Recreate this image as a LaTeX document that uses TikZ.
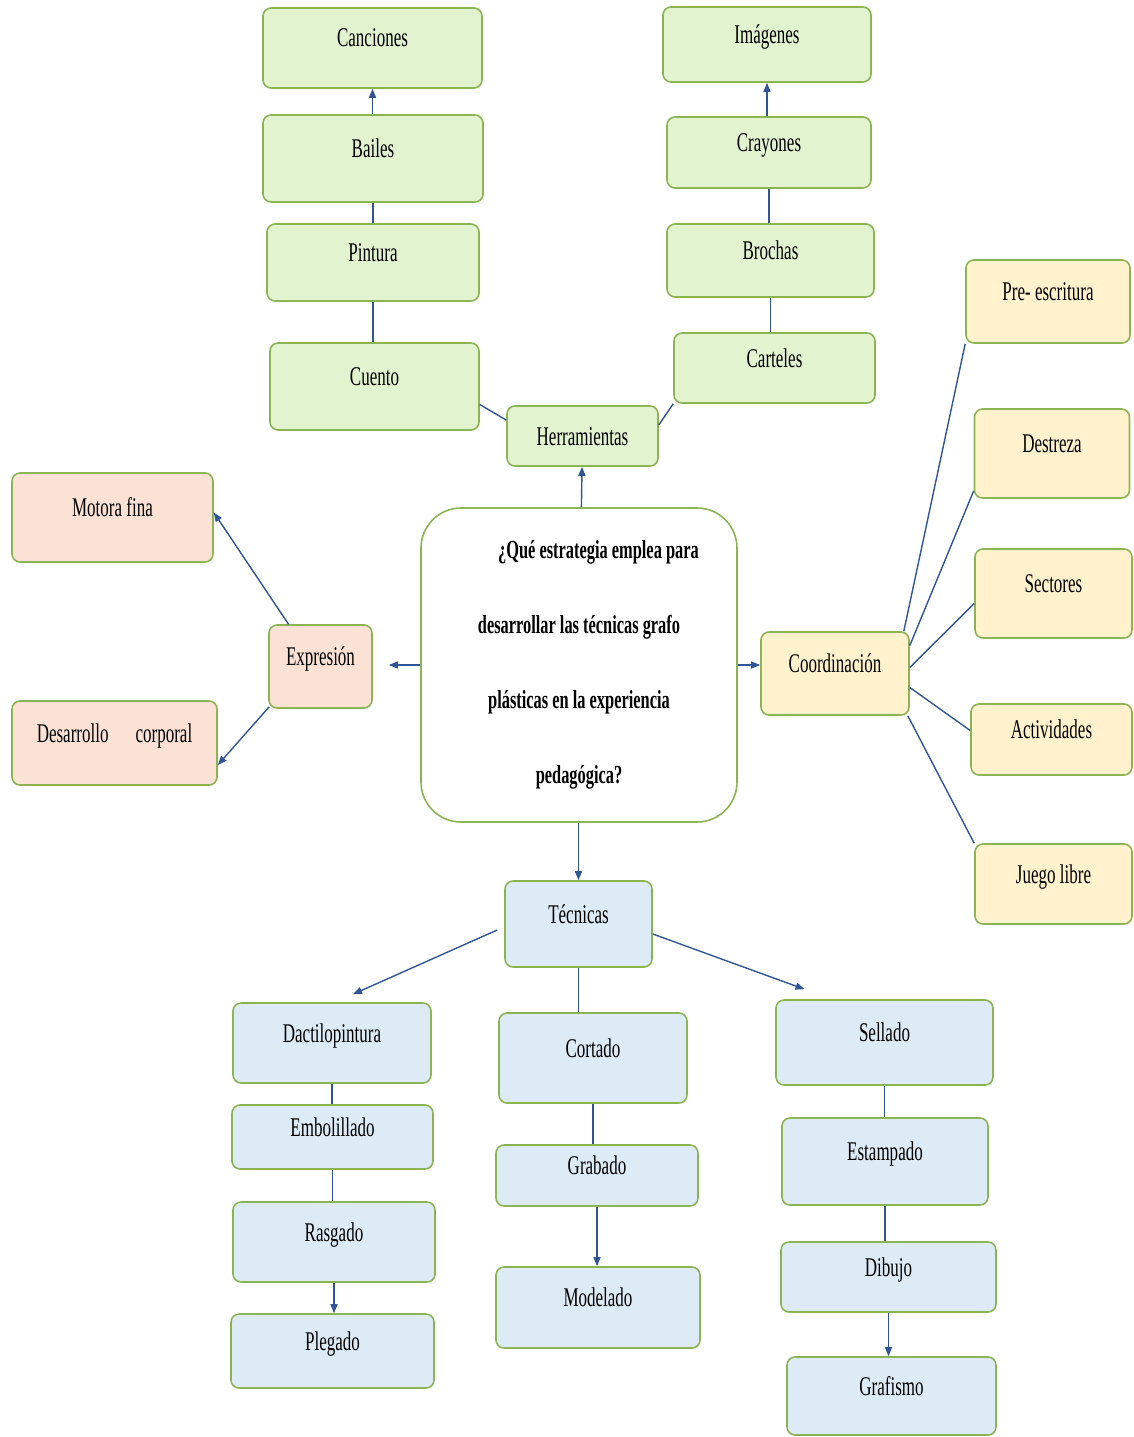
\documentclass[tikz,border=0pt]{standalone}
\usepackage{fontspec}
\setmainfont{Liberation Serif}[FakeStretch=0.63]
\usetikzlibrary{arrows.meta}

\definecolor{fillgreen}{RGB}{226,243,208}
\definecolor{fillorange}{RGB}{251,226,212}
\definecolor{fillyellow}{RGB}{255,242,204}
\definecolor{fillblue}{RGB}{221,235,247}
\definecolor{edgegreen}{RGB}{141,180,82}
\definecolor{linkblue}{RGB}{47,85,151}

\begin{document}
\begin{tikzpicture}[x=1pt,y=-1pt,
    box/.style={draw=edgegreen, line width=1.6pt, rounded corners=8pt,
        font=\fontsize{27pt}{32pt}\selectfont, text height=18pt, text depth=20pt},
    gbox/.style={box, fill=fillgreen},
    obox/.style={box, fill=fillorange},
    ybox/.style={box, fill=fillyellow},
    bbox/.style={box, fill=fillblue},
    link/.style={draw=linkblue, line width=1.4pt},
    arr/.style={link, -{Triangle[length=9pt,width=7pt]}}]
    \useasboundingbox (0,0) rectangle (1134,1437);

    % Central question
    \node[draw=edgegreen, line width=1.6pt, rounded corners=40pt, fill=white,
        minimum width=316pt, minimum height=314pt, align=center,
        font=\fontsize{26pt}{75pt}\selectfont\bfseries] (q) at (579,665)
        {\hspace{1.5em}¿Qué estrategia emplea para\\desarrollar las técnicas grafo\\plásticas en la experiencia\\pedagógica?};

    % Herramientas branch
    \node[gbox, text depth=0pt, minimum width=151pt, minimum height=60pt] (herr) at (582.5,436) {Herramientas};
    \node[gbox, minimum width=219pt, minimum height=80pt] (can) at (372.5,48) {Canciones};
    \node[gbox, minimum width=220pt, minimum height=87pt] (bai) at (373,158.5) {Bailes};
    \node[gbox, minimum width=212pt, minimum height=77pt] (pin) at (373,262.5) {Pintura};
    \node[gbox, minimum width=209pt, minimum height=87pt] (cue) at (374.5,386.5) {Cuento};
    \node[gbox, minimum width=208pt, minimum height=75pt] (ima) at (767,44.5) {Imágenes};
    \node[gbox, minimum width=204pt, minimum height=71pt] (cra) at (769,152.5) {Crayones};
    \node[gbox, minimum width=207pt, minimum height=73pt] (bro) at (770.5,260.5) {Brochas};
    \node[gbox, minimum width=201pt, minimum height=70pt] (car) at (774.5,368) {Carteles};

    % Expresion branch
    \node[obox, minimum width=103pt, minimum height=83pt] (expr) at (320.5,666.5) {Expresión};
    \node[obox, minimum width=201pt, minimum height=89pt] (mot) at (112.5,517.5) {Motora fina};
    \node[obox, minimum width=205pt, minimum height=84pt] (des) at (114.5,743) {Desarrollo\hspace{1em}corporal};

    % Coordinacion branch
    \node[ybox, minimum width=148pt, minimum height=83pt] (coord) at (835,673.5) {Coordinación};
    \node[ybox, minimum width=164pt, minimum height=83pt] (pre) at (1048,301.5) {Pre- escritura};
    \node[ybox, minimum width=155pt, minimum height=89pt] (dest) at (1052,453.5) {Destreza};
    \node[ybox, minimum width=157pt, minimum height=89pt] (sec) at (1053.5,593.5) {Sectores};
    \node[ybox, minimum width=161pt, minimum height=71pt] (act) at (1051.5,739.5) {Actividades};
    \node[ybox, minimum width=157pt, minimum height=80pt] (jue) at (1053.5,884) {Juego libre};

    % Tecnicas branch
    \node[bbox, minimum width=147pt, minimum height=86pt] (tec) at (578.5,924) {Técnicas};
    \node[bbox, minimum width=198pt, minimum height=80pt] (dac) at (332,1043) {Dactilopintura};
    \node[bbox, minimum width=201pt, minimum height=64pt] (emb) at (332.5,1137) {Embolillado};
    \node[bbox, minimum width=202pt, minimum height=80pt] (ras) at (334,1242) {Rasgado};
    \node[bbox, minimum width=203pt, minimum height=74pt] (ple) at (332.5,1351) {Plegado};
    \node[bbox, minimum width=188pt, minimum height=90pt] (cor) at (593,1058) {Cortado};
    \node[bbox, minimum width=202pt, minimum height=61pt] (gra) at (597,1175.5) {Grabado};
    \node[bbox, minimum width=204pt, minimum height=81pt] (mod) at (598,1307.5) {Modelado};
    \node[bbox, minimum width=217pt, minimum height=85pt] (sel) at (884.5,1042.5) {Sellado};
    \node[bbox, minimum width=206pt, minimum height=87pt] (est) at (885,1161.5) {Estampado};
    \node[bbox, minimum width=215pt, minimum height=70pt] (dib) at (888.5,1277) {Dibujo};
    \node[bbox, minimum width=209pt, minimum height=78pt] (gri) at (891.5,1396) {Grafismo};

    % connectors
    \draw[arr] (q) -- (herr);
    \draw[arr, shorten >=16pt] (q.west) -- (q.west -| expr.east);
    \draw[arr] (q.east) -- (q.east -| coord.west);
    \draw[arr] (q.south -| tec.north) -- (tec.north);

    \draw[link] ([yshift=-18pt]cue.east) -- ([yshift=16pt]herr.west);
    \draw[link] ([yshift=11pt]herr.east) -- (car.south west);
    \draw[arr] (bai.north -| can.south) -- (can.south);
    \draw[link] (pin.north -| bai.south) -- (bai.south);
    \draw[link] (cue.north -| pin.south) -- (pin.south);
    \draw[arr] (cra.north -| ima.south) -- (ima.south);
    \draw[link] (bro.north -| cra.south) -- (cra.south);
    \draw[link] (car.north -| bro.south) -- (bro.south);

    \draw[arr] ([xshift=-32pt]expr.north) -- ([yshift=5pt]mot.east);
    \draw[arr] ([xshift=1pt,yshift=2pt]expr.south west) -- ([yshift=-22pt]des.east);

    \draw[link] ([xshift=-6pt]coord.north east) -- (pre.south west);
    \draw[link] ([yshift=28pt]coord.east) -- ([yshift=8pt]dest.south west);
    \draw[link] ([yshift=6pt]coord.east) -- ([yshift=-10pt]sec.west);
    \draw[link] ([yshift=-14pt]coord.east) -- ([yshift=9pt]act.west);
    \draw[link] ([xshift=-2pt]coord.south east) -- (jue.north west);

    \draw[arr] ([xshift=-7pt,yshift=-6pt]tec.west) -- ([xshift=21pt,yshift=8pt]dac.north);
    \draw[arr] ([yshift=-10pt]tec.east) -- ([xshift=-80pt,yshift=10pt]sel.north);
    \draw[link] (tec.south) -- (tec.south |- cor.north);
    \draw[link] (dac.south) -- (dac.south |- emb.north);
    \draw[link] (emb.south) -- (emb.south |- ras.north);
    \draw[arr] (ras.south) -- (ras.south |- ple.north);
    \draw[link] (cor.south) -- (cor.south |- gra.north);
    \draw[arr] (gra.south) -- (gra.south |- mod.north);
    \draw[link] (sel.south) -- (sel.south |- est.north);
    \draw[link] (est.south) -- (est.south |- dib.north);
    \draw[arr] (dib.south) -- (dib.south |- gri.north);
\end{tikzpicture}
\end{document}
